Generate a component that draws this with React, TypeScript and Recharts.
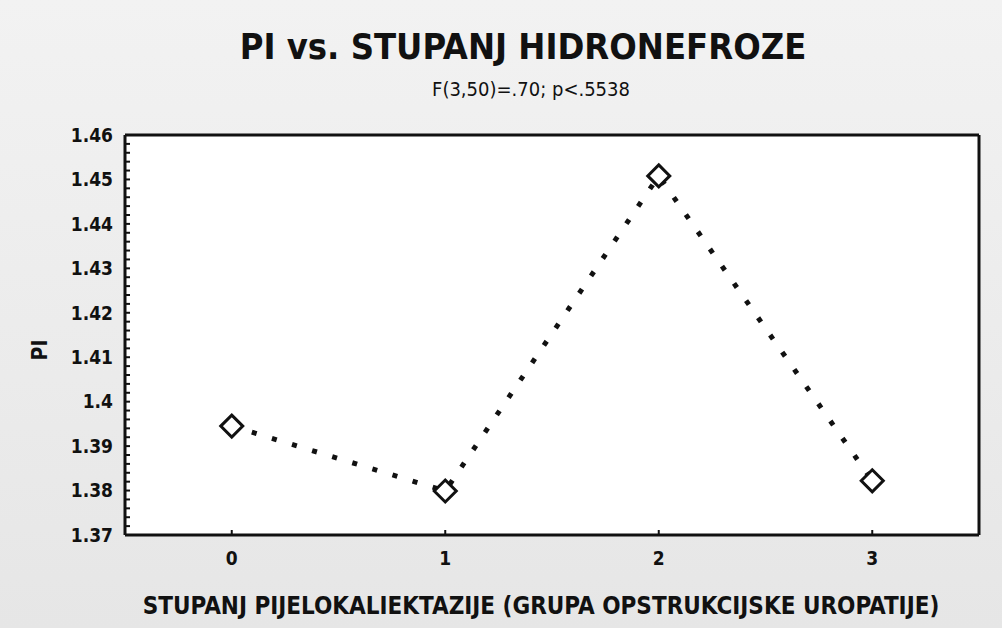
import React from 'react'
import { LineChart, Line, XAxis, YAxis, CartesianGrid } from 'recharts'

// stupanj pijelokaliektazije (x) vs. PI (y)
const grades = [0, 1, 2, 3]
const piMeans = [1.3945, 1.3799, 1.4508, 1.3822]
const xTicks = [0, 1, 2, 3]
const yMajorTicks = [1.37, 1.38, 1.39, 1.4, 1.41, 1.42, 1.43, 1.44, 1.45, 1.46]

const data = grades.map((g, i) => ({ grade: g, pi: piMeans[i] }))

// 4 minor ticks between every labelled one
const yAllTicks: number[] = []
yMajorTicks.forEach((t, i) => {
    if (i === 0) { yAllTicks.push(t); return }
    const prev = yMajorTicks[i - 1]
    for (let k = 1; k <= 5; k++) yAllTicks.push(+(prev + (t - prev) * k / 5).toFixed(4))
})

const FONT = '"Liberation Sans Narrow", "DejaVu Sans Condensed", "Liberation Sans", Arial, sans-serif'
const TICK = { fontSize: 19, fill: '#111', fontWeight: 700, fontFamily: FONT }
const AXIS_LINE = { stroke: '#111', strokeWidth: 3 }
const TICK_LINE = { stroke: '#111', strokeWidth: 2 }

const isMajor = (v: number) => Math.abs(v * 100 - Math.round(v * 100)) < 1e-6

const Diamond = (props: any) => {
    const { cx, cy } = props
    if (cx == null || cy == null) return null
    const r = 11
    return (
        <polygon
            points={`${cx},${cy - r} ${cx + r},${cy} ${cx},${cy + r} ${cx - r},${cy}`}
            fill="#fff" stroke="#111" strokeWidth={3}
        />
    )
}

export default function App() {
    return (
        <div style={{
            position: 'absolute', left: 0, top: 0, width: 1002, height: 628,
            background: 'linear-gradient(180deg, #f2f2f2 0%, #ebebeb 60%, #e6e6e6 100%)',
            fontFamily: FONT, color: '#111', overflow: 'hidden',
        }}>
            {/* titles */}
            <div style={{ position: 'absolute', left: 0, width: 1046, top: 23, textAlign: 'center', fontSize: 36, fontWeight: 700, lineHeight: '48px' }}>
                PI vs. STUPANJ HIDRONEFROZE
            </div>
            <div style={{ position: 'absolute', left: 0, width: 1062, top: 76, textAlign: 'center', fontSize: 20, lineHeight: '26px' }}>
                F(3,50)=.70; p&lt;.5538
            </div>

            <div style={{ position: 'absolute', left: 0, top: 0 }}>
                <LineChart width={1002} height={628} data={data} margin={{ top: 134, right: 22, bottom: 0, left: 0 }}>
                    <CartesianGrid horizontal={false} vertical={false} fill="#fff" />
                    <XAxis
                        dataKey="grade" type="number" domain={[-0.5, 3.5]} ticks={xTicks}
                        height={93} tick={TICK} tickSize={-5} tickMargin={22}
                        axisLine={AXIS_LINE} tickLine={TICK_LINE}
                    />
                    <XAxis
                        xAxisId="top" orientation="top" dataKey="grade" type="number" domain={[-0.5, 3.5]}
                        height={1} tick={false} tickLine={false} axisLine={AXIS_LINE}
                    />
                    <YAxis
                        type="number" domain={[1.37, 1.46]} ticks={yAllTicks} interval={0}
                        width={125} tick={TICK} tickSize={-5} tickMargin={17}
                        tickFormatter={v => (isMajor(v) ? String(Number(v.toFixed(2))) : '')}
                        axisLine={AXIS_LINE} tickLine={TICK_LINE}
                    />
                    <YAxis
                        yAxisId="right" orientation="right" type="number" domain={[1.37, 1.46]}
                        ticks={yAllTicks} interval={0} width={1} tick={false} tickSize={-5}
                        axisLine={AXIS_LINE} tickLine={TICK_LINE}
                    />
                    <Line
                        type="linear" dataKey="pi" stroke="#111" strokeWidth={5}
                        strokeDasharray="5 16" dot={<Diamond />} activeDot={false}
                        isAnimationActive={false}
                    />
                </LineChart>
            </div>

            {/* axis titles */}
            <div style={{
                position: 'absolute', left: 40, top: 350, transform: 'translate(-50%, -50%) rotate(-90deg)',
                fontSize: 21, fontWeight: 700, lineHeight: '22px',
            }}>
                PI
            </div>
            <div style={{ position: 'absolute', left: 0, width: 1082, top: 592, textAlign: 'center', fontSize: 24, fontWeight: 700, lineHeight: '28px' }}>
                STUPANJ PIJELOKALIEKTAZIJE (GRUPA OPSTRUKCIJSKE UROPATIJE)
            </div>
        </div>
    )
}
